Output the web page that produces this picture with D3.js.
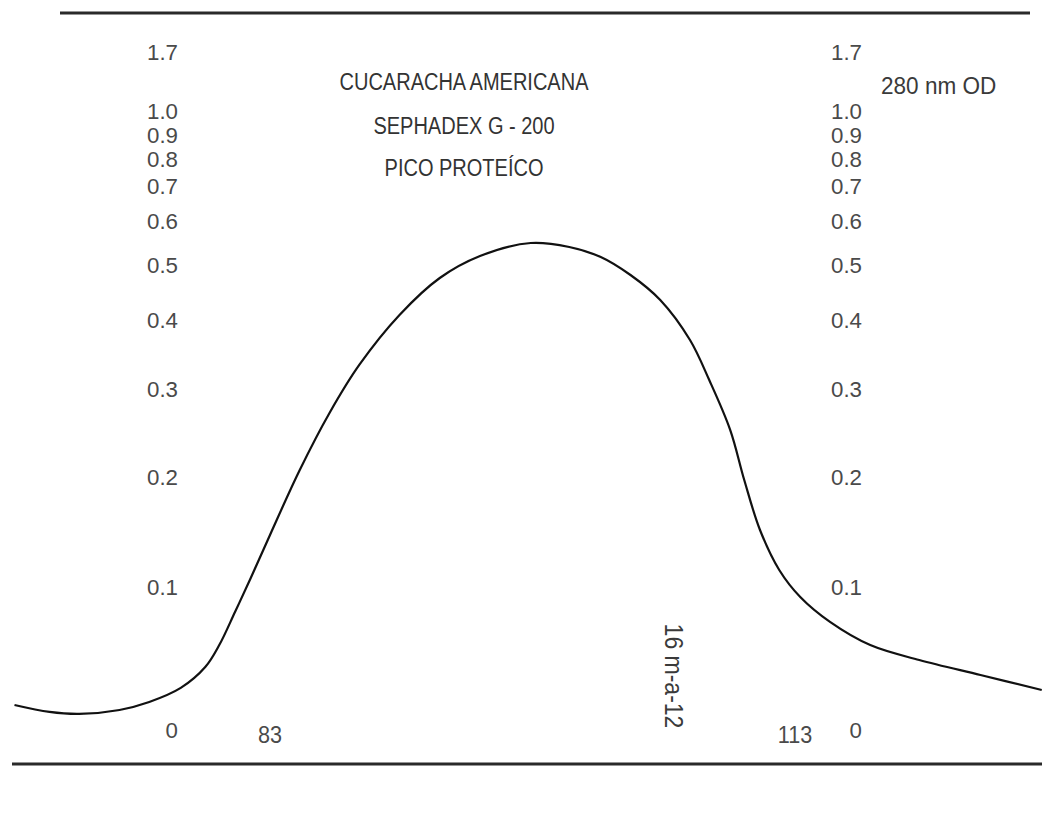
<!DOCTYPE html>
<html>
<head>
<meta charset="utf-8">
<script src="https://cdn.jsdelivr.net/npm/d3@7"></script>
<style>
  html, body { margin: 0; padding: 0; background: #fff; }
  svg { display: block; }
  text { font-family: "Liberation Sans", Arial, sans-serif; fill: #444; }
</style>
</head>
<body>
<svg id="chart" width="1042" height="819"></svg>
<script>
// ---- data ----
const titleLines = ["CUCARACHA AMERICANA", "SEPHADEX G - 200", "PICO PROTEÍCO"];
const yAxisTitle = "280 nm OD";
const sideNote = "16 m-a-12";
const odTicks = [1.7, 1.0, 0.9, 0.8, 0.7, 0.6, 0.5, 0.4, 0.3, 0.2, 0.1, 0];
const fractionTicks = [83, 113];
// effluent fraction number
const fraction = [68.4, 70.4, 72.1, 74.4, 76.1, 77.9, 79.3, 80.1, 81.0, 81.9, 83.0, 84.7, 86.4, 88.1, 90.4, 92.7, 95.0, 97.9, 100.1, 101.9, 103.6, 105.3, 107.0, 108.1, 109.3, 110.1, 111.0, 112.1, 113.3, 115.0, 117.3, 120.1, 123.6, 127.1];
// optical density at 280 nm
const od280 = [0.0131, 0.0085, 0.0072, 0.0098, 0.0151, 0.0246, 0.0391, 0.0549, 0.0798, 0.1070, 0.1441, 0.2068, 0.2705, 0.3325, 0.4081, 0.4739, 0.5184, 0.5470, 0.5380, 0.5163, 0.4797, 0.4336, 0.3686, 0.3121, 0.2505, 0.1966, 0.1486, 0.1137, 0.0916, 0.0722, 0.0549, 0.0441, 0.0335, 0.0232];

// ---- layout ----
const svg = d3.select("#chart");

// x: fraction number
const x = d3.scaleLinear().domain([83, 113]).range([270, 795]);
// y: chart paper ruled linear in transmittance (T = 10^-OD)
const yT = d3.scaleLinear().domain([0, 1]).range([52, 725]);
const y = od => yT(Math.pow(10, -od));

// frame rules (top and bottom)
svg.append("line").attr("x1", 60).attr("x2", 1030).attr("y1", 13).attr("y2", 13)
  .attr("stroke", "#2a2a2a").attr("stroke-width", 3);
svg.append("line").attr("x1", 12).attr("x2", 1042).attr("y1", 764).attr("y2", 764)
  .attr("stroke", "#2a2a2a").attr("stroke-width", 3);

// condensed-looking text helper
function ctext(g, tx, ty, str, size, anchor, sx, rot, fill) {
  const t = g.append("g").attr("transform",
    `translate(${tx},${ty})` + (rot ? ` rotate(${rot})` : "") + ` scale(${sx},1)`);
  t.append("text")
    .attr("text-anchor", anchor)
    .attr("dominant-baseline", "central")
    .attr("font-size", size)
    .style("fill", fill || null)
    .text(str);
}

// OD tick labels with simple upward de-collision for the crowded top of the scale;
// the highest value is printed at the top end of the paper scale
function labelPositions(vals, minGap) {
  const sorted = vals.slice().sort((a, b) => a - b);
  const top = sorted[sorted.length - 1];
  const pos = {};
  let prev = Infinity;
  sorted.forEach(v => {
    let p = y(v);
    if (v === top) p = Math.min(p, yT(0));
    if (prev - p < minGap) p = prev - minGap;
    pos[v] = p;
    prev = p;
  });
  return pos;
}
const lp = labelPositions(odTicks, 24);

[178, 862].forEach(xPos => {
  const g = svg.append("g");
  odTicks.forEach(d => {
    ctext(g, xPos, lp[d] + (d === 0 ? 5 : 0), d === 0 ? "0" : d.toFixed(1), 23, "end", 0.97, 0, "#4a4a4a");
  });
});

// fraction labels
const gx = svg.append("g");
fractionTicks.forEach(d => ctext(gx, x(d), 735, String(d), 24, "middle", 0.9, 0, "#4a4a4a"));

// title block
const titleY = [82, 126, 168];
const gt = svg.append("g");
titleLines.forEach((s, i) => ctext(gt, 464, titleY[i], s, 23, "middle", 0.87, 0, "#333"));

// axis unit
ctext(svg.append("g"), 881, 86, yAxisTitle, 24, "start", 0.94, 0, "#3a3a3a");

// rotated note
ctext(svg.append("g"), 674, 676, sideNote, 25, "middle", 0.92, 90, "#3a3a3a");

// curve
const pts = fraction.map((f, i) => [f, od280[i]]);
const line = d3.line().x(d => x(d[0])).y(d => y(d[1])).curve(d3.curveCatmullRom.alpha(0.5));
svg.append("path").datum(pts).attr("d", line)
  .attr("fill", "none").attr("stroke", "#111").attr("stroke-width", 2.2);
</script>
</body>
</html>
